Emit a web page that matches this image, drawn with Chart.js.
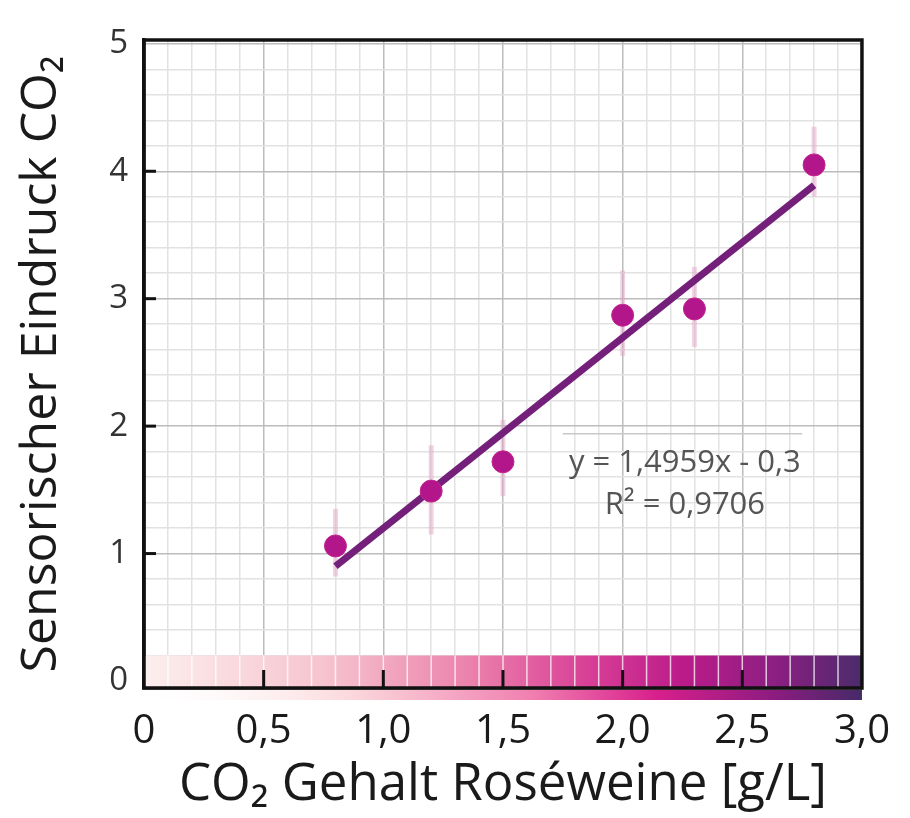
<!DOCTYPE html>
<html lang="de">
<head>
    <meta charset="UTF-8">
    <title>CO2 Roséweine</title>
    <script src="https://cdn.jsdelivr.net/npm/chart.js"></script>
    <style>
        html, body { margin: 0; padding: 0; background: #fff; }
        #wrap { width: 910px; height: 818px; }
    </style>
</head>
<body>
    <div id="wrap"><canvas id="co2-chart" width="910" height="818"></canvas></div>

    <script>
        // values
        var co2Gehalt = [0.8, 1.2, 1.5, 2.0, 2.3, 2.8];
        var eindruck = [1.06, 1.49, 1.72, 2.87, 2.92, 4.05];
        var errLow = [0.82, 1.15, 1.45, 2.55, 2.62, 3.8];
        var errHigh = [1.35, 1.85, 2.05, 3.22, 3.25, 4.35];
        var trendX = [0.8, 2.8];
        var trendY = [0.9, 3.89];
        var xTickLabels = ['0', '0,5', '1,0', '1,5', '2,0', '2,5', '3,0'];
        var yTickLabels = ['0', '1', '2', '3', '4', '5'];
        var equationText = ['y = 1,4959x - 0,3', 'R² = 0,9706'];

        var FONT = '"Open Sans", Lato, sans-serif';

        function isMajor(v, step) {
            var r = v / step;
            return Math.abs(r - Math.round(r)) < 1e-6;
        }

        var decoPlugin = {
            id: 'deco',
            beforeDatasetsDraw: function(chart) {
                var ctx = chart.ctx, a = chart.chartArea;
                var xs = chart.scales.x, ys = chart.scales.y;
                ctx.save();
                // colour bar along the x axis
                var top = ys.getPixelForValue(0.2);
                var g = ctx.createLinearGradient(a.left, 0, a.right, 0);
                g.addColorStop(0, '#fcefee');
                g.addColorStop(0.25, '#f6c4cf');
                g.addColorStop(0.45, '#eb83ac');
                g.addColorStop(0.62, '#d83f96');
                g.addColorStop(0.75, '#bb1b89');
                g.addColorStop(0.88, '#8c1f82');
                g.addColorStop(1, '#4b2b6c');
                ctx.fillStyle = g;
                ctx.fillRect(a.left, top, a.right - a.left, a.bottom - top);
                ctx.strokeStyle = 'rgba(255,255,255,0.75)';
                ctx.lineWidth = 1.5;
                for (var i = 1; i < 30; i++) {
                    var px = xs.getPixelForValue(i / 10);
                    ctx.beginPath();
                    ctx.moveTo(px, top);
                    ctx.lineTo(px, a.bottom);
                    ctx.stroke();
                }
                // light strip below the axis
                var g2 = ctx.createLinearGradient(a.left - 15, 0, a.right, 0);
                g2.addColorStop(0, 'rgba(255,255,255,0)');
                g2.addColorStop(0.3, '#fbd9dc');
                g2.addColorStop(0.55, '#f07fb0');
                g2.addColorStop(0.72, '#d81f8c');
                g2.addColorStop(0.88, '#8d1c80');
                g2.addColorStop(1, '#452a68');
                ctx.fillStyle = g2;
                ctx.fillRect(a.left - 15, a.bottom + 2, a.right - a.left + 15, 10);
                // error bars
                ctx.strokeStyle = 'rgba(225,160,195,0.45)';
                ctx.lineWidth = 5;
                for (var k = 0; k < co2Gehalt.length; k++) {
                    var ex = xs.getPixelForValue(co2Gehalt[k]);
                    ctx.beginPath();
                    ctx.moveTo(ex, ys.getPixelForValue(errLow[k]));
                    ctx.lineTo(ex, ys.getPixelForValue(errHigh[k]));
                    ctx.stroke();
                }
                ctx.restore();
            },
            afterDatasetsDraw: function(chart) {
                var ctx = chart.ctx, a = chart.chartArea;
                var xs = chart.scales.x, ys = chart.scales.y;
                ctx.save();
                // inward tick marks
                ctx.strokeStyle = '#111';
                ctx.lineWidth = 3;
                for (var i = 1; i < yTickLabels.length - 1; i++) {
                    var py = ys.getPixelForValue(i);
                    ctx.beginPath();
                    ctx.moveTo(a.left, py);
                    ctx.lineTo(a.left + 12, py);
                    ctx.stroke();
                }
                for (var j = 1; j < xTickLabels.length - 1; j++) {
                    var px = xs.getPixelForValue(j * 0.5);
                    ctx.beginPath();
                    ctx.moveTo(px, a.bottom);
                    ctx.lineTo(px, a.bottom - 18);
                    ctx.stroke();
                }
                // frame
                ctx.lineWidth = 3.5;
                ctx.strokeRect(a.left, a.top, a.right - a.left, a.bottom - a.top);
                // regression label
                var cx = xs.getPixelForValue(2.26);
                ctx.strokeStyle = '#c8c8c8';
                ctx.lineWidth = 1.5;
                ctx.beginPath();
                ctx.moveTo(xs.getPixelForValue(1.75), ys.getPixelForValue(1.94));
                ctx.lineTo(xs.getPixelForValue(2.75), ys.getPixelForValue(1.94));
                ctx.stroke();
                ctx.fillStyle = '#555';
                ctx.font = '31px ' + FONT;
                ctx.textAlign = 'center';
                ctx.textBaseline = 'middle';
                ctx.fillText(equationText[0], cx, ys.getPixelForValue(1.71));
                ctx.fillText(equationText[1], cx, ys.getPixelForValue(1.38));
                ctx.restore();
            }
        };

        var ctx = document.getElementById('co2-chart').getContext('2d');
        var co2Chart = new Chart(ctx, {
            type: 'scatter',
            data: {
                datasets: [
                    {
                        label: 'Sensorischer Eindruck',
                        data: co2Gehalt.map(function(x, i) { return { x: x, y: eindruck[i] }; }),
                        backgroundColor: '#b3168a',
                        borderColor: '#c4268f',
                        borderWidth: 1,
                        pointRadius: 11
                    },
                    {
                        type: 'line',
                        label: 'Trend',
                        data: trendX.map(function(x, i) { return { x: x, y: trendY[i] }; }),
                        borderColor: '#74207b',
                        borderWidth: 7,
                        pointRadius: 0,
                        fill: false
                    }
                ]
            },
            plugins: [decoPlugin],
            options: {
                responsive: false,
                animation: false,
                layout: { padding: { top: 40, right: 48, left: 0, bottom: 0 } },
                plugins: {
                    legend: { display: false },
                    tooltip: { enabled: false }
                },
                scales: {
                    x: {
                        type: 'linear',
                        min: 0,
                        max: 3,
                        afterBuildTicks: function(scale) {
                            var t = [];
                            for (var i = 0; i <= 30; i++) t.push({ value: i / 10 });
                            scale.ticks = t;
                        },
                        afterFit: function(scale) { scale.height = 130; },
                        ticks: {
                            autoSkip: false,
                            maxRotation: 0,
                            padding: 20,
                            color: '#1a1a1a',
                            font: { family: FONT, size: 40 },
                            callback: function(v) {
                                if (!isMajor(v, 0.5)) return '';
                                return xTickLabels[Math.round(v * 2)];
                            }
                        },
                        grid: {
                            drawTicks: false,
                            color: function(c) {
                                var v = c.tick ? c.tick.value : 0;
                                return isMajor(v, 0.5) ? '#bcbcbc' : '#e2e2e2';
                            },
                            lineWidth: 1.5
                        },
                        border: { display: true, color: '#111', width: 3.5 },
                        title: {
                            display: true,
                            text: 'CO₂ Gehalt Roséweine [g/L]',
                            color: '#1a1a1a',
                            font: { family: FONT, size: 51 },
                            padding: { top: 0, bottom: 2 }
                        }
                    },
                    y: {
                        type: 'linear',
                        min: -0.055,
                        max: 5.03,
                        afterBuildTicks: function(scale) {
                            var t = [];
                            for (var i = 0; i <= 25; i++) t.push({ value: i / 5 });
                            scale.ticks = t;
                        },
                        afterFit: function(scale) { scale.width = 144; },
                        ticks: {
                            autoSkip: false,
                            padding: 16,
                            color: '#333',
                            font: { family: FONT, size: 33 },
                            callback: function(v) {
                                if (!isMajor(v, 1)) return '';
                                return yTickLabels[Math.round(v)];
                            }
                        },
                        grid: {
                            drawTicks: false,
                            color: function(c) {
                                var v = c.tick ? c.tick.value : 0;
                                return isMajor(v, 1) ? '#bcbcbc' : '#e2e2e2';
                            },
                            lineWidth: 1.5
                        },
                        border: { display: true, color: '#111', width: 3.5 },
                        title: {
                            display: true,
                            text: 'Sensorischer Eindruck CO₂',
                            color: '#1a1a1a',
                            font: { family: FONT, size: 50 },
                            padding: { top: 12, bottom: 0 }
                        }
                    }
                }
            }
        });
    </script>
</body>
</html>
